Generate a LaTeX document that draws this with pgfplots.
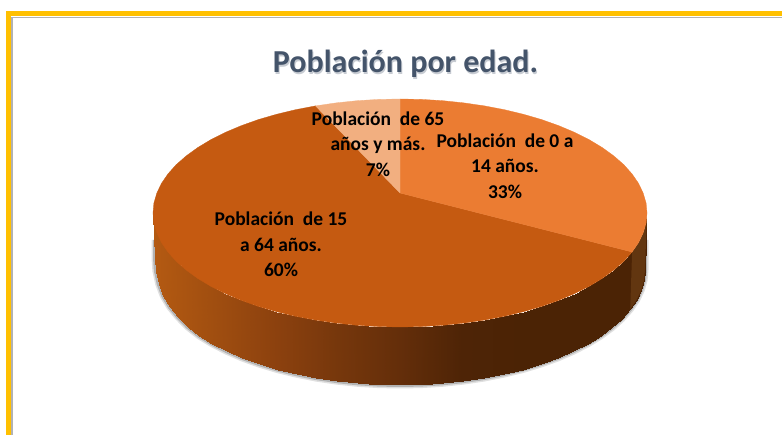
\documentclass[border=0pt]{standalone}
\usepackage{pgfplots}
\pgfplotsset{compat=1.18}
\usepackage{pgfplotstable}
\usepackage{fontspec}
\setmainfont{Carlito}
\definecolor{frame}{HTML}{FFC000}
\definecolor{kids}{HTML}{EB7C32}
\definecolor{adults}{HTML}{C55A11}
\definecolor{seniors}{HTML}{F2AF80}
\definecolor{titlecol}{HTML}{44546A}

% wall of the pie: upper rim, then lower rim
\pgfplotstableread{
x y
153 213
153.9 222.9
156.8 232.8
161.4 242.5
167.9 252
176.1 261.2
186.1 270
197.7 278.4
210.8 286.3
225.3 293.6
241.2 300.3
258.3 306.4
276.5 311.7
295.6 316.3
315.5 320.1
336.1 323.1
357.1 325.3
378.5 326.6
400 327
421.5 326.6
442.9 325.3
463.9 323.1
484.5 320.1
504.4 316.3
523.5 311.7
541.7 306.4
558.8 300.3
574.7 293.6
589.2 286.3
602.3 278.4
613.9 270
623.9 261.2
632.1 252
638.6 242.5
643.2 232.8
646.1 222.9
647 213
155 258
155.9 271
158.7 284
163.3 296
169.8 307
178 317
187.8 327
199.3 336
212.3 343.9
226.8 351.3
242.5 358.1
259.5 364.2
277.5 369.6
296.5 374.2
316.2 378.1
336.6 381.1
357.5 383.3
378.6 384.6
400 385
421.4 384.6
442.5 383.3
463.4 381.1
483.8 378.1
503.5 374.2
522.5 369.6
540.5 364.2
557.5 358.1
573.2 351.3
587.7 343.9
600.7 336
612.2 327.5
622 318.6
630.2 309.3
636.7 299.8
641.3 290
644.1 280
645 270
}\walltable

\pgfplotstableread{
x y
155 240
155 258
155.9 271
158.7 284
163.3 296
169.8 307
178 317
187.8 327
199.3 336
212.3 343.9
226.8 351.3
242.5 358.1
259.5 364.2
277.5 369.6
296.5 374.2
316.2 378.1
336.6 381.1
357.5 383.3
378.6 384.6
400 385
421.4 384.6
442.5 383.3
463.4 381.1
483.8 378.1
503.5 374.2
522.5 369.6
540.5 364.2
557.5 358.1
573.2 351.3
587.7 343.9
600.7 336
612.2 327.5
622 318.6
630.2 309.3
636.7 299.8
641.3 290
644.1 280
645 270
645 240
}\rimtable

\begin{document}
\begin{tikzpicture}
\begin{axis}[
    scale only axis,
    width=782pt, height=435pt,
    xmin=0, xmax=782, ymin=0, ymax=435,
    y dir=reverse,
    hide axis,
    colormap={wall}{
        rgb255=(180,90,18) rgb255=(160,78,16) rgb255=(140,65,14)
        rgb255=(118,55,12) rgb255=(100,46,10) rgb255=(78,36,6)
        rgb255=(75,35,5) rgb255=(75,35,5) rgb255=(75,35,5)},
]
% hidden axis gives no box of its own
\path (axis cs:0,0) rectangle (axis cs:782,435);

% frame
\addplot[no marks, line width=1.5pt, color=black!30] coordinates {(12,435) (12,17.5) (782,17.5)};
\addplot[no marks, line width=5pt, color=frame, line cap=butt, line join=miter] coordinates {(8.5,435) (8.5,13.5) (782,13.5)};

% soft shadow under the wall
\addplot[no marks, line width=7pt, color=black, opacity=0.12] table {\rimtable};
\addplot[no marks, line width=4pt, color=black, opacity=0.2] table {\rimtable};

\addplot[surf, shader=interp, mesh/rows=2, point meta=x, point meta min=153, point meta max=647] table {\walltable};

% wall of the 33% slice
\addplot[no marks, fill={rgb,255:red,98;green,54;blue,16}, draw=none] coordinates {
 (632.1,252) (638.6,242.5) (643.2,232.8) (646.1,222.9) (647,213)
 (645,270) (644.1,280) (641.3,290) (636.7,299.8) (630.2,309.3) (632.1,252)};

% 60%
\addplot[no marks, fill=adults, draw=adults, line width=0.3pt] coordinates {
 (400,193) (315.5,105.9) (295.6,109.7) (276.5,114.3) (258.3,119.6) (241.2,125.7)
 (225.3,132.4) (210.8,139.7) (197.7,147.6) (186.1,156) (176.1,164.8) (167.9,174)
 (161.4,183.5) (156.8,193.2) (153.9,203.1) (153,213) (153.9,222.9) (156.8,232.8)
 (161.4,242.5) (167.9,252) (176.1,261.2) (186.1,270) (197.7,278.4) (210.8,286.3)
 (225.3,293.6) (241.2,300.3) (258.3,306.4) (276.5,311.7) (295.6,316.3) (315.5,320.1)
 (336.1,323.1) (357.1,325.3) (378.5,326.6) (400,327) (421.5,326.6) (442.9,325.3)
 (463.9,323.1) (484.5,320.1) (504.4,316.3) (523.5,311.7) (541.7,306.4) (558.8,300.3)
 (574.7,293.6) (589.2,286.3) (602.3,278.4) (613.9,270) (623.9,261.2) (632.1,252)
 (400,193)};
% 33%
\addplot[no marks, fill=kids, draw=kids, line width=0.3pt] coordinates {
 (400,193) (632.1,252) (638.6,242.5) (643.2,232.8) (646.1,222.9) (647,213)
 (646.1,203.1) (643.2,193.2) (638.6,183.5) (632.1,174) (623.9,164.8) (613.9,156)
 (602.3,147.6) (589.2,139.7) (574.7,132.4) (558.8,125.7) (541.7,119.6) (523.5,114.3)
 (504.4,109.7) (484.5,105.9) (463.9,102.9) (442.9,100.7) (421.5,99.4) (400,99)
 (400,193)};
% 7%
\addplot[no marks, fill=seniors, draw=seniors, line width=0.3pt] coordinates {
 (400,193) (400,99) (378.5,99.4) (357.1,100.7) (336.1,102.9) (315.5,105.9) (400,193)};

\node[titlecol!60, opacity=0.5, font=\fontsize{32}{34}\selectfont\bfseries] at (axis cs:406.5,65.5) {Población por edad.};
\node[titlecol, font=\fontsize{32}{34}\selectfont\bfseries] at (axis cs:405.5,64) {Población por edad.};

\node[align=center, text=black, font=\fontsize{19.5}{25.5}\selectfont\bfseries] at (axis cs:281,244.5) {Población\ \ de 15\\a 64 años.\\60\%};
\node[align=center, text=black, font=\fontsize{19.5}{25.5}\selectfont\bfseries] at (axis cs:378,144) {Población\ \ de 65\\años y más.\\7\%};
\node[align=center, text=black, font=\fontsize{19.5}{25.5}\selectfont\bfseries] at (axis cs:505,166) {Población\ \ de 0 a\\14 años.\\33\%};
\end{axis}
\end{tikzpicture}
\end{document}
